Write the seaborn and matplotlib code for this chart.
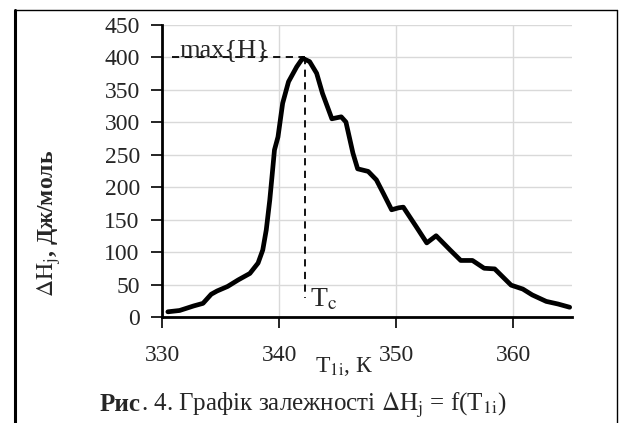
import numpy as np
import pandas as pd
import matplotlib
matplotlib.use("Agg")
import matplotlib.pyplot as plt
from matplotlib.lines import Line2D
import seaborn as sns

# values
temps = [330.5, 331.5, 332.7, 333.5, 334.2, 334.7, 335.6, 336.5, 337.5, 338.2,
         338.6, 338.9, 339.2, 339.4, 339.6, 339.9, 340.3, 340.8, 341.5, 342.0,
         342.6, 343.2, 343.7, 344.5, 345.3, 345.7, 346.3, 346.7, 347.6, 348.3,
         348.9, 349.6, 350.2, 350.6, 351.7, 352.6, 353.4, 354.6, 355.5, 356.5,
         357.5, 358.4, 359.8, 360.8, 361.6, 362.8, 363.8, 364.8]
enthalpy = [8, 10, 17, 21, 35, 40, 47, 57, 67, 83,
            103, 134, 180, 218, 257, 277, 329, 362, 385, 398,
            393, 375, 344, 305, 308, 300, 252, 228, 224, 211,
            190, 165, 168, 169, 139, 114, 125, 103, 87, 87,
            75, 74, 49, 43, 34, 24, 20, 15]
x_ticks = [330, 340, 350, 360]
y_ticks = [0, 50, 100, 150, 200, 250, 300, 350, 400, 450]
t_c = 342.2
h_max = 400

df = pd.DataFrame({"T": temps, "H": enthalpy})

sns.set_style("white")
plt.rcParams["font.family"] = ["Liberation Serif", "DejaVu Serif"]
plt.rcParams["mathtext.fontset"] = "stix"

fig = plt.figure(figsize=(6.2, 4.23), dpi=100)
ax = fig.add_axes([0.2613, 0.2506, 0.6613, 0.6914])

line = sns.lineplot(data=df, x="T", y="H", ax=ax, color="black", linewidth=3.4,
                    estimator=None, sort=True, zorder=3)
for ln in ax.lines:
    ln.set_solid_joinstyle("round")
    ln.set_solid_capstyle("round")

# guide lines to the maximum
ax.plot([330.85, t_c], [h_max, h_max], color="black", lw=1.3, ls=(0, (4, 3)), zorder=2)
ax.plot([t_c, t_c], [h_max, 29], color="black", lw=1.3, ls=(0, (4, 3)), zorder=2)
ax.text(331.5, 401, "max{H}", fontsize=19, ha="left", va="baseline")
ax.text(342.6, 17, r"T$_\mathrm{c}$", fontsize=20, ha="left", va="baseline")

ax.set_xlim(330, 365)
ax.set_ylim(0, 450)
ax.set_xticks(x_ticks)
ax.set_yticks(y_ticks)
ax.grid(True, color="#d9d9d9", lw=1)
ax.set_axisbelow(True)
sns.despine(ax=ax)
for s in ("left", "bottom"):
    ax.spines[s].set_color("black")
    ax.spines[s].set_linewidth(2)
ax.tick_params(axis="both", labelsize=17, length=8, width=1.2, color="black",
               direction="out", left=True, bottom=True)
ax.tick_params(axis="x", pad=12)
ax.tick_params(axis="y", pad=8)

ax.set_xlabel(r"T$_\mathrm{1i}$, К", fontsize=17, labelpad=0)
ax.xaxis.set_label_coords(0.445, -0.13)
ax.set_ylabel(r"$\Delta\mathrm{H}_\mathrm{j}$, Дж/моль", fontsize=17,
              fontweight="bold")
ax.yaxis.set_label_coords(-0.241, 0.32)

# caption: bold "Рис" followed by regular text
cap_y = 1 - 411 / 423
t1 = fig.text(100 / 620, cap_y, "Рис", fontsize=18, fontweight="bold",
              ha="left", va="baseline")
fig.canvas.draw()
bb = t1.get_window_extent()
fig.text(bb.x1 / fig.bbox.width, cap_y,
         r". 4. Графік залежності $\Delta\mathrm{H}_\mathrm{j}$ = f(T$_\mathrm{1i}$)",
         fontsize=18, ha="left", va="baseline")

# page frame around the figure
fig.add_artist(Line2D([15 / 620, 15 / 620], [0, 1 - 10 / 423], color="black", lw=2.2,
                      transform=fig.transFigure))
fig.add_artist(Line2D([15 / 620, 617 / 620], [1 - 10 / 423, 1 - 10 / 423], color="black",
                      lw=1, transform=fig.transFigure))
fig.add_artist(Line2D([617 / 620, 617 / 620], [0, 1 - 10 / 423], color="black", lw=1,
                      transform=fig.transFigure))

fig.savefig("out.png", dpi=100)
plt.close(fig)
